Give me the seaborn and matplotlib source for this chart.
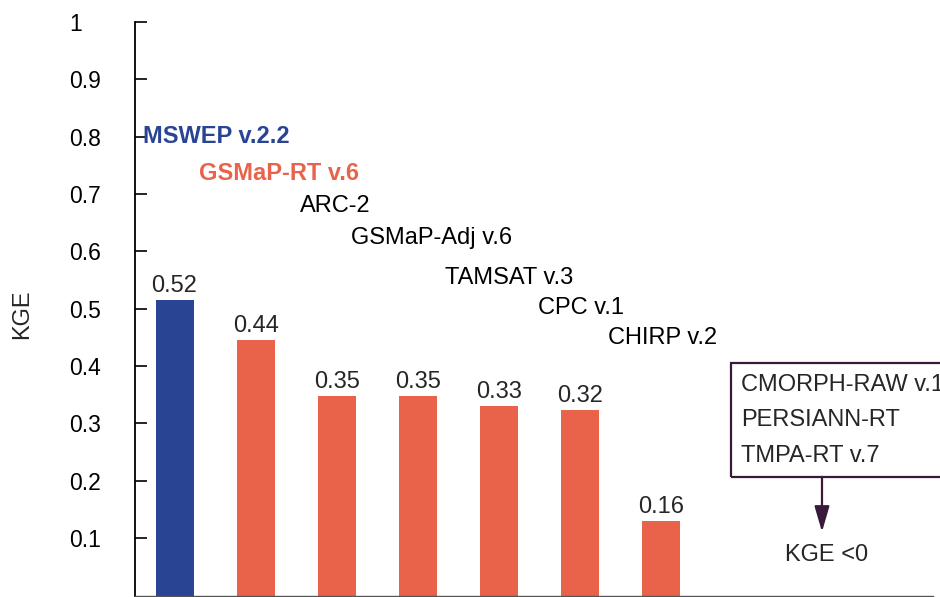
import matplotlib
matplotlib.use("Agg")
import matplotlib.pyplot as plt
import seaborn as sns
import pandas as pd
from matplotlib.patches import Rectangle

# ---- data ----
products = ["MSWEP v.2.2", "GSMaP-RT v.6", "ARC-2", "GSMaP-Adj v.6",
            "TAMSAT v.3", "CPC v.1", "CHIRP v.2"]
bar_heights = [0.515, 0.445, 0.347, 0.347, 0.330, 0.323, 0.130]
bar_labels = ["0.52", "0.44", "0.35", "0.35", "0.33", "0.32", "0.16"]
negative_products = ["CMORPH-RAW v.1", "PERSIANN-RT", "TMPA-RT v.7"]
yticks = [0.1, 0.2, 0.3, 0.4, 0.5, 0.6, 0.7, 0.8, 0.9, 1.0]
ytick_labels = ["0.1", "0.2", "0.3", "0.4", "0.5", "0.6", "0.7", "0.8", "0.9", "1"]

# label positions of the staircase names (data coords)
name_x = [-0.39, 0.30, 1.55, 2.18, 3.34, 4.49, 5.35]
name_y = [0.80, 0.735, 0.679, 0.623, 0.554, 0.501, 0.449]

BLUE = "#2a4494"
ORANGE = "#e8634a"
PURPLE = "#3a1a3a"

sns.set_theme(style="white")
plt.rcParams['font.family'] = ['Liberation Sans', 'DejaVu Sans']
FS = 17
TFS = 16.5

df = pd.DataFrame({"product": products, "kge": bar_heights})
colors = [BLUE] + [ORANGE] * (len(products) - 1)

fig = plt.figure(figsize=(9.4, 5.97), dpi=100)
ax = fig.add_axes([135 / 940, 1.5 / 597, (933 - 135) / 940, 573.5 / 597])

sns.barplot(data=df, x="product", y="kge", hue="product", palette=colors,
            legend=False, width=0.47, saturation=1, ax=ax, edgecolor="none")

ax.set_xlim(-0.488, 9.36)
ax.set_ylim(0, 1)
ax.set_xticks([])
ax.set_xlabel("")
ax.set_ylabel("")
ax.set_yticks(yticks)
ax.set_yticklabels(ytick_labels, fontsize=TFS, color="black")
ax.tick_params(axis="y", direction="in", length=8.5, width=1.2, color="black",
               pad=47.5, left=True)
for lab in ax.get_yticklabels():
    lab.set_horizontalalignment("left")

for s in ["top", "right"]:
    ax.spines[s].set_visible(False)
ax.spines["left"].set_color("black")
ax.spines["left"].set_linewidth(1.3)
ax.spines["bottom"].set_color("#555555")
ax.spines["bottom"].set_linewidth(1.0)

fig.text(22 / 940, 1 - 314 / 597, "KGE", rotation=90, ha="center", va="center",
         fontsize=FS)

# value labels
for i, (h, t) in enumerate(zip(bar_heights, bar_labels)):
    ax.annotate(t, (i, h), xytext=(0, 6), textcoords="offset points",
                ha="center", va="baseline", fontsize=FS)

# staircase names
for i, (name, x, y) in enumerate(zip(products, name_x, name_y)):
    kw = dict(fontsize=FS, ha="left", va="center")
    if i == 0:
        kw.update(color=BLUE, fontweight="bold")
    elif i == 1:
        kw.update(color=ORANGE, fontweight="bold")
    else:
        kw.update(color="black")
    ax.text(x, y, name, **kw)

# box of products with KGE < 0
box = Rectangle((6.87, 0.207), 4.0, 0.198, facecolor="none", edgecolor=PURPLE,
                linewidth=1.6, clip_on=False, zorder=3)
ax.add_patch(box)
for name, y in zip(negative_products, [0.367, 0.306, 0.243]):
    ax.text(6.99, y, name, fontsize=FS, ha="left", va="center")

ax.annotate("", xy=(7.99, 0.111), xytext=(7.99, 0.207),
            arrowprops=dict(arrowstyle="-|>,head_length=1.3,head_width=0.38",
                            color=PURPLE, lw=1.6, shrinkA=0, shrinkB=0))
ax.text(8.05, 0.070, "KGE <0", fontsize=FS, ha="center", va="center")

fig.savefig("out.png", dpi=100)
